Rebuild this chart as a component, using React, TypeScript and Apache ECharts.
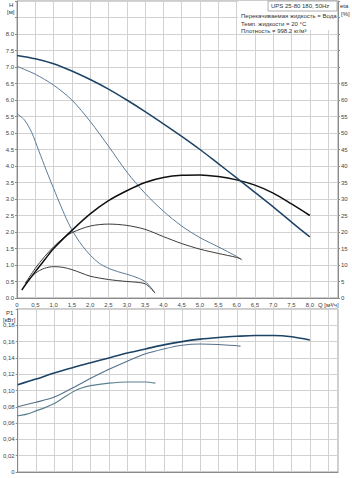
import React, { useEffect, useRef } from "react";
import * as echarts from "echarts";

// Q axis values [m3/h] and curve values
const qH3 = [0, 0.5, 1, 1.5, 2, 2.5, 3, 3.5, 4, 4.5, 5, 5.5, 6, 6.5, 7, 7.5, 8];
const h3 = [7.35, 7.25, 7.1, 6.88, 6.62, 6.33, 6.0, 5.65, 5.28, 4.9, 4.5, 4.07, 3.64, 3.2, 2.76, 2.3, 1.85];

const qH2 = [0, 0.5, 1, 1.5, 2, 2.5, 3, 3.5, 4, 4.5, 5, 5.5, 6, 6.15];
const h2 = [7.02, 6.78, 6.45, 6.0, 5.35, 4.6, 3.82, 3.17, 2.63, 2.18, 1.83, 1.55, 1.26, 1.15];

const qH1 = [0, 0.2, 0.4, 0.6, 0.8, 1.0, 1.2, 1.4, 1.6, 1.8, 2.0, 2.25, 2.5, 2.75, 3.0, 3.25, 3.5, 3.65, 3.77];
const h1 = [5.58, 5.4, 5.02, 4.45, 3.87, 3.32, 2.78, 2.28, 1.88, 1.56, 1.3, 1.05, 0.9, 0.8, 0.72, 0.63, 0.5, 0.33, 0.15];

const qEta3 = [0.13, 0.25, 0.5, 0.75, 1, 1.5, 2, 2.5, 3, 3.5, 4, 4.5, 5, 5.5, 6, 6.5, 7, 7.5, 8];
const eta3 = [2.4, 4.3, 8, 11.5, 15, 20.5, 25.5, 29.5, 32.5, 35, 36.5, 37.2, 37.3, 36.8, 35.8, 34.2, 31.8, 28.5, 25];

const qEta2 = [0.23, 0.5, 0.75, 1, 1.25, 1.5, 2, 2.5, 3, 3.5, 4, 4.5, 5, 5.5, 6, 6.12];
const eta2 = [4.5, 9, 12.5, 15.5, 18, 19.8, 21.8, 22.4, 22, 20.8, 18.6, 16.5, 14.8, 13.5, 12.3, 11.8];

const qEta1 = [0.23, 0.5, 0.75, 1, 1.25, 1.5, 1.75, 2, 2.5, 3, 3.25, 3.5, 3.65, 3.77];
const eta1 = [4.5, 7.5, 9, 9.5, 9.3, 8.6, 7.6, 6.6, 5.6, 5.0, 4.8, 4.3, 3.0, 1.5];

const qP3 = [0, 0.5, 1, 1.5, 2, 2.5, 3, 3.5, 4, 4.5, 5, 5.5, 6, 6.5, 7, 7.5, 8];
const p3 = [0.107, 0.114, 0.1215, 0.128, 0.134, 0.14, 0.146, 0.151, 0.156, 0.16, 0.163, 0.165, 0.1665, 0.1675, 0.1675, 0.166, 0.162];

const qP2 = [0, 0.5, 1, 1.5, 2, 2.5, 3, 3.5, 4, 4.5, 5, 5.5, 6, 6.1];
const p2 = [0.08, 0.0855, 0.092, 0.103, 0.115, 0.126, 0.136, 0.145, 0.151, 0.1555, 0.157, 0.1565, 0.155, 0.1545];

const qP1 = [0, 0.25, 0.5, 0.75, 1, 1.25, 1.5, 1.75, 2, 2.5, 3, 3.5, 3.77];
const p1 = [0.069, 0.071, 0.075, 0.079, 0.084, 0.091, 0.098, 0.103, 0.106, 0.109, 0.1105, 0.1105, 0.109];

const titleText = "UPS 25-80 180, 50Hz";
const infoLines = [
  "Перекачиваемая жидкость = Вода",
  "Темп. жидкости = 20 °C",
  "Плотность = 998.2 кг/м³",
];

const FONT = "Liberation Sans";
const GRID = "#d2d2d2";
const AXIS = "#8a8a8a";
const LBL = "#444";

const zip = (xs: number[], ys: number[]) => xs.map((x, i) => [x, ys[i]]);

function line(name: string, xs: number[], ys: number[], color: string, width: number, xi: number, yi: number) {
  return {
    name,
    type: "line",
    xAxisIndex: xi,
    yAxisIndex: yi,
    data: zip(xs, ys),
    showSymbol: false,
    symbol: "none",
    smooth: 0.3,
    lineStyle: { color, width },
    z: 3,
  };
}

export default function App() {
  const ref = useRef<HTMLDivElement>(null);
  useEffect(() => {
    const chart = echarts.init(ref.current!, undefined, { renderer: "svg" });
    const xCommon = {
      type: "value",
      min: 0,
      max: 8.77,
      interval: 0.5,
      axisLine: { show: true, lineStyle: { color: AXIS } },
      axisTick: { show: false },
      splitLine: { show: true, lineStyle: { color: GRID, width: 1 } },
    };
    const option = {
      animation: false,
      backgroundColor: "#fff",
      textStyle: { fontFamily: FONT },
      grid: [
        { left: 17, top: 1, width: 321, height: 297, show: true, borderColor: "#9a9a9a", borderWidth: 1 },
        { left: 17, top: 309, width: 321, height: 163, show: true, borderColor: "#9a9a9a", borderWidth: 1 },
      ],
      xAxis: [
        {
          ...xCommon,
          gridIndex: 0,
          axisLabel: {
            show: true,
            fontSize: 6,
            color: LBL,
            margin: 4,
            showMaxLabel: false,
            formatter: (v: number) => (v > 8.01 ? "" : v === 0 ? "0" : v.toFixed(1).replace(".", ",")),
          },
        },
        { ...xCommon, gridIndex: 1, axisLabel: { show: false } },
      ],
      yAxis: [
        {
          type: "value",
          gridIndex: 0,
          position: "left",
          min: 0,
          max: 9,
          interval: 0.5,
          axisLine: { show: true, lineStyle: { color: AXIS } },
          axisTick: { show: true, length: 2, lineStyle: { color: AXIS } },
          axisLabel: {
            fontSize: 6,
            color: LBL,
            margin: 3,
            formatter: (v: number) => (v > 8.01 ? "" : v.toFixed(1)),
          },
          splitLine: { show: true, lineStyle: { color: GRID, width: 1 } },
        },
        {
          type: "value",
          gridIndex: 0,
          position: "right",
          min: 0,
          max: 90,
          interval: 5,
          axisLine: { show: true, lineStyle: { color: AXIS } },
          axisTick: { show: true, length: 2, lineStyle: { color: AXIS } },
          axisLabel: {
            fontSize: 6,
            color: LBL,
            margin: 3,
            formatter: (v: number) => (v > 65.1 ? "" : String(Math.round(v))),
          },
          splitLine: { show: false },
        },
        {
          type: "value",
          gridIndex: 1,
          position: "left",
          min: 0,
          max: 0.2,
          interval: 0.02,
          axisLine: { show: true, lineStyle: { color: AXIS } },
          axisTick: { show: true, length: 2, lineStyle: { color: AXIS } },
          axisLabel: {
            fontSize: 6,
            color: LBL,
            margin: 3,
            formatter: (v: number) => (v > 0.19 ? "" : v < 0.001 ? "0" : v.toFixed(2).replace(".", ",")),
          },
          splitLine: { show: true, lineStyle: { color: GRID, width: 1 } },
        },
      ],
      graphic: [
        { type: "rect", shape: { x: 238, y: 1, width: 99, height: 29 }, style: { fill: "#fff" }, z: 10 },
        { type: "rect", shape: { x: 268, y: 1, width: 69, height: 10 }, style: { fill: "#fff", stroke: "#999", lineWidth: 0.8 }, z: 11 },
        { type: "text", x: 271, y: 3, style: { text: titleText, fontSize: 6, fill: "#333", fontFamily: FONT }, z: 12 },
        { type: "text", x: 241, y: 13, style: { text: infoLines[0], fontSize: 6, fill: "#333", fontFamily: FONT }, z: 12 },
        { type: "text", x: 241, y: 20.5, style: { text: infoLines[1], fontSize: 6, fill: "#333", fontFamily: FONT }, z: 12 },
        { type: "text", x: 241, y: 28, style: { text: infoLines[2], fontSize: 6, fill: "#333", fontFamily: FONT }, z: 12 },
        { type: "text", x: 340, y: 3, style: { text: "eta", fontSize: 6, fill: "#333", fontFamily: FONT } },
        { type: "text", x: 341, y: 11, style: { text: "[%]", fontSize: 6, fill: "#333", fontFamily: FONT } },
        { type: "text", x: 9, y: 2, style: { text: "H", fontSize: 6, fill: "#333", fontFamily: FONT } },
        { type: "text", x: 7, y: 9, style: { text: "[м]", fontSize: 6, fill: "#333", fontFamily: FONT } },
        { type: "text", x: 318, y: 302, style: { text: "Q [м³/ч]", fontSize: 6, fill: "#333", fontFamily: FONT } },
        { type: "text", x: 6, y: 310, style: { text: "P1", fontSize: 6, fill: "#333", fontFamily: FONT } },
        { type: "text", x: 3, y: 317, style: { text: "[кВт]", fontSize: 6, fill: "#333", fontFamily: FONT } },
      ],
      series: [
        line("H1", qH1, h1, "#5b7b98", 1, 0, 0),
        line("H2", qH2, h2, "#5b7b98", 1, 0, 0),
        line("eta1", qEta1, eta1, "#3e3a3a", 1, 0, 1),
        line("eta2", qEta2, eta2, "#3e3a3a", 1, 0, 1),
        line("eta3", qEta3, eta3, "#101010", 1.5, 0, 1),
        line("H3", qH3, h3, "#1d4466", 1.5, 0, 0),
        line("P1-1", qP1, p1, "#5a8090", 1.1, 1, 2),
        line("P1-2", qP2, p2, "#55708c", 1.1, 1, 2),
        line("P1-3", qP3, p3, "#1d4466", 1.6, 1, 2),
      ],
    };
    chart.setOption(option as any);
    return () => chart.dispose();
  }, []);
  return <div ref={ref} style={{ position: "absolute", left: 0, top: 0, width: 352, height: 478 }} />;
}
